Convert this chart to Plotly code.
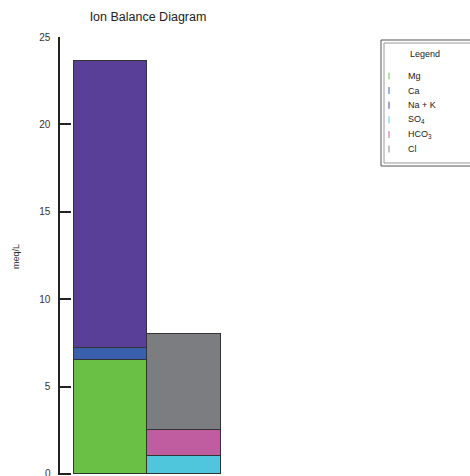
import plotly.graph_objects as go

# Ion concentrations in meq/L
cations = ["Mg", "Ca", "Na + K"]
cation_values = [6.5, 0.7, 16.4]
cation_colors = ["#6abf45", "#3a5fad", "#5a3f99"]

anions = ["SO<sub>4</sub>", "HCO<sub>3</sub>", "Cl"]
anion_values = [1.0, 1.5, 5.5]
anion_colors = ["#4fc6dc", "#c05ca0", "#7c7d81"]

legend_colors = ["#9ad78a", "#7f9bd6", "#8f7fc6", "#8ee0ee", "#e394c8", "#b0b0b0"]

y_ticks = [0, 5, 10, 15, 20, 25]

fig = go.Figure()

for name, val, col in zip(cations, cation_values, cation_colors):
    fig.add_trace(go.Bar(x=[0], y=[val], name=name, marker_color=col,
                         marker_line_color="#333333", marker_line_width=1,
                         width=1, showlegend=False))
for name, val, col in zip(anions, anion_values, anion_colors):
    fig.add_trace(go.Bar(x=[1], y=[val], name=name, marker_color=col,
                         marker_line_color="#333333", marker_line_width=1,
                         width=1, showlegend=False))

W, H = 470, 476
L, R, T, B = 60, 90, 37, 1
pw, ph = W - L - R, H - T - B
Y0 = -0.06


def px_x(px):
    return (px - L) / pw


def px_y(py):
    return (H - B - py) / ph


def note(text, x, y, **kw):
    d = dict(text=text, x=px_x(x), y=px_y(y), xref="paper", yref="paper",
             showarrow=False, xanchor="center", yanchor="middle",
             font=dict(size=9, color="#222222"))
    d.update(kw)
    return d


annotations = [
    note("meq/L", 16, 257, textangle=-90, font=dict(size=9, color="#333333")),
    note("Legend", 425, 54),
    # bottom tick label sits on the page edge, placed explicitly
    dict(text=str(y_ticks[0]), x=px_x(53), y=y_ticks[0], xref="paper", yref="y",
         xanchor="right", yanchor="middle", showarrow=False,
         font=dict(size=10, color="#333333")),
]
shapes = [
    dict(type="rect", xref="paper", yref="paper",
         x0=px_x(381), x1=px_x(476), y0=px_y(40), y1=px_y(166),
         line=dict(color="#555555", width=1)),
    dict(type="rect", xref="paper", yref="paper",
         x0=px_x(384), x1=px_x(473), y0=px_y(43), y1=px_y(163),
         line=dict(color="#999999", width=1)),
]
names = cations + anions
for i, (name, col) in enumerate(zip(names, legend_colors)):
    yc = 76 + i * 14.6
    annotations.append(note(name, 406, yc, xanchor="left"))
    shapes.append(dict(type="line", xref="paper", yref="paper",
                       x0=px_x(389), x1=px_x(389), y0=px_y(yc - 3.5), y1=px_y(yc + 3.5),
                       line=dict(color=col, width=1.5)))

fig.update_layout(
    width=W, height=H,
    margin=dict(l=L, r=R, t=T, b=B),
    barmode="stack", bargap=0,
    paper_bgcolor="white", plot_bgcolor="white",
    font=dict(family="Liberation Sans, Arial, sans-serif", color="#333333"),
    title=dict(text="Ion Balance Diagram", x=px_x(148), xref="paper", xanchor="center",
               y=1 - 17 / H, yanchor="middle", font=dict(size=12.5, color="#222222")),
    xaxis=dict(range=[-0.69, -0.69 + pw / 73.5], visible=False, fixedrange=True),
    yaxis=dict(range=[Y0, 25], tickvals=y_ticks, ticktext=[""] + [str(v) for v in y_ticks[1:]],
               ticks="inside", ticklen=11,
               tickcolor="#222222", tickwidth=1.5, showline=True, linecolor="#222222",
               linewidth=1.5, showgrid=False, zeroline=False,
               tickfont=dict(size=10, color="#333333"), ticklabelstandoff=6),
    annotations=annotations,
    shapes=shapes,
    showlegend=False,
)

fig.write_html("out.html")
